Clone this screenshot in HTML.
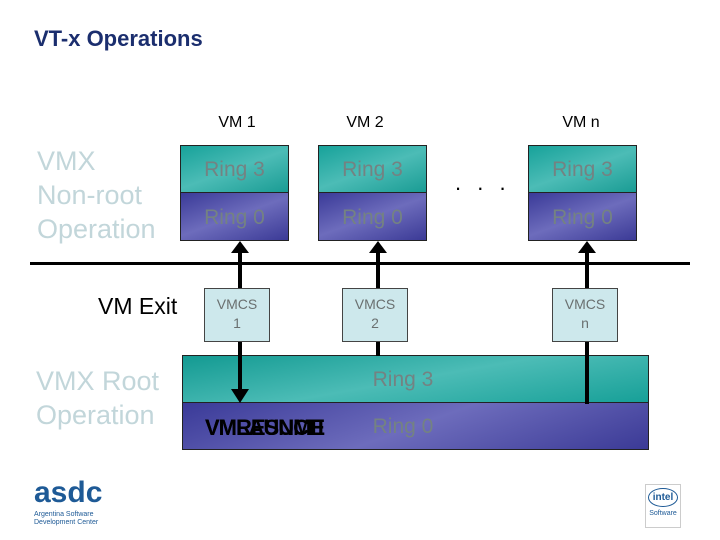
<!DOCTYPE html>
<html><head><style>
body{margin:0;width:720px;height:540px;background:#fff;position:relative;overflow:hidden;font-family:"Liberation Sans",Arial,sans-serif}
.a{position:absolute}
.r3{background:linear-gradient(160deg,#17a29a,#4cbcb6 50%,#1a9c94);border:1px solid #222;box-sizing:border-box}
.r0{background:linear-gradient(160deg,#3a3a98,#6d6cbc 50%,#3b3a96);border:1px solid #222;box-sizing:border-box}
.rt{color:#748282;font-size:21px;text-align:center}
.vm{font-size:16px;text-align:center;width:108px;color:#000}
.vmcs{background:#cde8ec;border:1px solid #444;box-sizing:border-box;color:#6a7070;font-size:14px;text-align:center;line-height:19px;padding-top:6px}
.ln{background:#000}
.lbl{color:#c2d6da;font-size:27px;line-height:34px}
</style></head><body>
<div class="a" style="left:34px;top:26px;font-size:22px;font-weight:bold;color:#1b2e6e">VT-x Operations</div>
<div class="a vm" style="left:183px;top:114px">VM 1</div>
<div class="a vm" style="left:311px;top:114px">VM 2</div>
<div class="a vm" style="left:527px;top:114px">VM n</div>

<div class="a lbl" style="left:37px;top:144px">VMX<br>Non-root<br>Operation</div>

<div class="a r3 rt" style="left:180px;top:145px;width:109px;height:48px;line-height:48px">Ring 3</div>
<div class="a r0 rt" style="left:180px;top:192px;width:109px;height:49px;line-height:49px">Ring 0</div>
<div class="a r3 rt" style="left:318px;top:145px;width:109px;height:48px;line-height:48px">Ring 3</div>
<div class="a r0 rt" style="left:318px;top:192px;width:109px;height:49px;line-height:49px">Ring 0</div>
<div class="a r3 rt" style="left:528px;top:145px;width:109px;height:48px;line-height:48px">Ring 3</div>
<div class="a r0 rt" style="left:528px;top:192px;width:109px;height:49px;line-height:49px">Ring 0</div>
<div class="a" style="left:455px;top:170px;font-size:22px;letter-spacing:5px">. . .</div>

<div class="a ln" style="left:30px;top:262px;width:660px;height:3px"></div>
<div class="a" style="left:98px;top:293px;font-size:23px">VM Exit</div>

<div class="a ln" style="left:238px;top:252px;width:4px;height:104px"></div>
<div class="a ln" style="left:376px;top:252px;width:4px;height:152px"></div>
<div class="a ln" style="left:585px;top:252px;width:4px;height:152px"></div>
<svg class="a" style="left:0;top:0" width="720" height="540">
<polygon points="240,241 231,253 249,253" fill="#000"/>
<polygon points="378,241 369,253 387,253" fill="#000"/>
<polygon points="587,241 578,253 596,253" fill="#000"/>
</svg>

<div class="a vmcs" style="left:204px;top:288px;width:66px;height:54px">VMCS<br>1</div>
<div class="a vmcs" style="left:342px;top:288px;width:66px;height:54px">VMCS<br>2</div>
<div class="a vmcs" style="left:552px;top:288px;width:66px;height:54px">VMCS<br>n</div>

<div class="a r3 rt" style="left:182px;top:355px;width:467px;height:48px;line-height:48px;text-indent:-25px;background:linear-gradient(170deg,#139a92,#4cbcb6 50%,#17a098)">Ring 3</div>
<div class="a r0 rt" style="left:182px;top:402px;width:467px;height:48px;line-height:48px;text-indent:-25px">Ring 0</div>
<div class="a ln" style="left:238px;top:342px;width:4px;height:48px"></div>
<div class="a ln" style="left:376px;top:342px;width:4px;height:14px"></div>
<div class="a ln" style="left:585px;top:342px;width:4px;height:62px"></div>
<svg class="a" style="left:0;top:0" width="720" height="540">
<polygon points="240,403 231,389 249,389" fill="#000"/>
</svg>
<div class="a" style="left:205px;top:415px;font-size:22px;font-weight:bold;color:#000;letter-spacing:-1px">VMLAUNCH</div>
<div class="a" style="left:205px;top:415px;font-size:22px;font-weight:bold;color:#000;letter-spacing:-1px">VMRESUME</div>

<div class="a lbl" style="left:36px;top:364px">VMX Root<br>Operation</div>

<div class="a" style="left:34px;top:478px;font-size:30px;font-weight:bold;color:#1e5a96;line-height:30px">asdc</div>
<div class="a" style="left:34px;top:511px;font-size:7px;color:#1e5a96;line-height:8px">Argentina Software<br>Development Center</div>
<div class="a" style="left:645px;top:484px;width:36px;height:44px;border:1px solid #ccc;box-sizing:border-box;text-align:center;font-size:10px;color:#1e5a96">
<div style="margin:3px auto 0;width:28px;height:17px;border:1px solid #1e5a96;border-radius:50%;font-weight:bold;line-height:17px">intel</div>
<div style="font-size:7px;margin-top:3px">Software</div></div>
</body></html>
